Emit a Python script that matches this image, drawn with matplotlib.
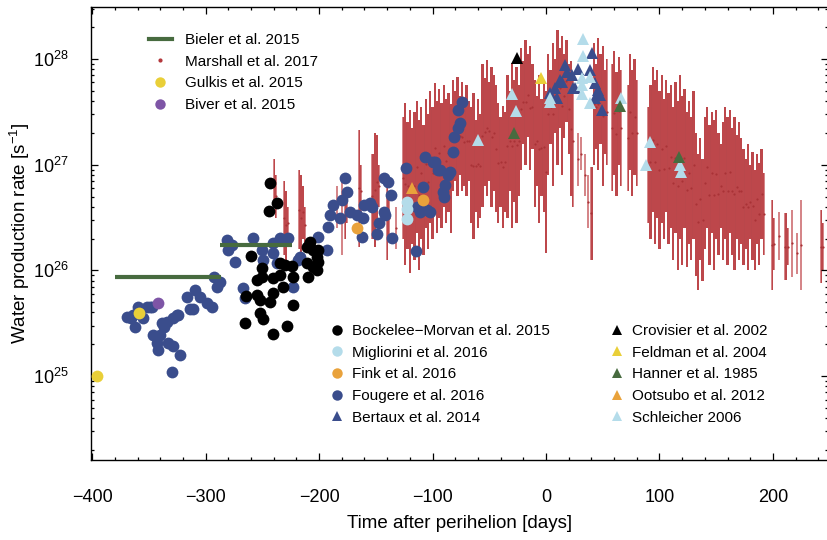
import numpy as np
import matplotlib.pyplot as plt
from matplotlib.lines import Line2D
from matplotlib.ticker import LogLocator, MultipleLocator, NullFormatter

plt.rcParams['font.family'] = ['Liberation Sans', 'DejaVu Sans']
plt.rcParams['mathtext.fontset'] = 'custom'
plt.rcParams['mathtext.rm'] = 'Liberation Sans'

# production rates are kept as log10(Q [s^-1]), times in days from perihelion

# Marshall et al. 2017: per-day range (low / high of the error bars)
marshall_day = [-240, -238, -231, -229, -227, -218, -216, -214, -212, -184, -180, -177, -175,
                -165, -163, -153, -151, -149, -147, -140, -138, -132,
                -126, -124, -122, -120, -118, -116, -114, -112, -110, -108, -106, -104,
                -102, -100, -98, -96, -94, -92, -90, -88, -86, -84,
                -82, -80, -78, -76, -74, -72, -70, -68,
                -66, -64, -62, -60, -58,
                -56, -54, -52, -50, -48, -46, -44,
                -42, -40, -38, -36,
                -34, -32, -30, -28, -26, -24,
                -22, -20, -18, -16, -14, -12,
                -10, -8, -6, -4, -2, 0,
                2, 4, 6, 8, 10, 12, 14, 16, 18, 20, 22, 24,
                28, 31, 34, 37, 40,
                42, 44, 46, 48, 50, 52, 54,
                58, 60, 62, 64, 66,
                72, 74, 76, 78, 80,
                90, 92, 94, 96, 98, 100, 102, 104, 106, 108, 110, 112, 114, 116, 118, 120,
                122, 124, 126, 128, 130, 132, 134, 136, 138, 140, 142, 144, 146, 148, 150,
                152, 154, 156, 158, 160, 162, 164, 166, 168, 170, 172, 174, 176, 178, 180,
                182, 184, 186, 188, 190, 192,
                199, 201, 205, 211, 213, 217, 221, 225, 242, 244]
marshall_lo = [26.65, 26.50, 26.15, 26.10, 26.30, 26.20, 26.10, 26.30, 26.25, 26.40, 26.15, 26.30, 26.45,
               26.22, 26.50, 26.30, 26.22, 26.40, 26.60, 26.10, 26.30, 26.20,
               26.30, 26.05, 26.20, 25.98, 26.25, 26.10, 26.35, 26.00, 26.30, 26.15, 26.40, 26.20,
               26.45, 26.30, 26.55, 26.35, 26.50, 26.40, 26.60, 26.45, 26.55, 26.35,
               26.75, 26.85, 26.70, 26.90, 26.75, 26.80, 26.70, 26.85,
               26.45, 26.30, 26.55, 26.40, 26.50,
               26.60, 26.80, 26.70, 26.85, 26.60, 26.75, 26.55,
               26.45, 26.60, 26.40, 26.55,
               26.50, 26.75, 26.40, 26.65, 26.45, 26.70,
               26.95, 27.20, 27.00, 27.26, 26.95, 27.15,
               26.60, 26.80, 26.45, 26.70, 26.55, 26.16,
               26.90, 27.20, 26.80, 27.30, 27.00, 27.35, 26.90, 27.25, 27.40, 27.10, 26.70, 26.60,
               26.80, 26.95, 26.70, 26.40, 26.10,
               27.00, 27.15, 26.95, 27.20, 26.80, 27.10, 27.00,
               26.75, 26.90, 26.70, 27.00, 26.80,
               26.75, 26.95, 26.70, 26.90, 26.80,
               26.45, 26.30, 26.55, 26.25, 26.50, 26.20, 26.45, 26.30, 26.55, 26.25, 26.40, 26.10,
               26.35, 26.00, 26.30, 26.05,
               26.40, 26.03, 26.25, 26.10, 26.30, 25.95, 25.81, 26.10, 25.90, 26.20, 26.40, 26.05,
               26.35, 26.00, 26.30,
               26.15, 26.40, 26.10, 26.30, 26.05, 26.35, 26.15, 26.00, 26.30, 26.10, 26.25, 26.05,
               26.20, 26.00, 26.30,
               26.10, 26.00, 26.25, 26.05, 26.30, 26.15,
               25.81, 26.00, 26.10, 25.91, 26.05, 25.94, 25.97, 25.81, 25.88, 26.00]
marshall_hi = [27.05, 26.90, 26.85, 26.75, 26.60, 26.95, 26.90, 26.80, 26.60, 26.80, 26.88, 26.75, 26.70,
               27.33, 27.00, 27.10, 27.30, 27.28, 27.00, 26.90, 26.70, 26.60,
               27.45, 27.58, 27.40, 27.52, 27.35, 27.50, 27.60, 27.42, 27.55, 27.38, 27.62, 27.48,
               27.70, 27.55, 27.77, 27.60, 27.72, 27.58, 27.75, 27.62, 27.68, 27.57,
               27.80, 27.70, 27.83, 27.65, 27.78, 27.62, 27.75, 27.60,
               27.55, 27.68, 27.42, 27.62, 27.48,
               27.95, 27.82, 27.99, 27.78, 27.92, 27.85, 27.75,
               27.58, 27.45, 27.56, 27.50,
               27.85, 27.70, 27.96, 27.80, 27.92, 27.75,
               28.10, 27.98, 28.18, 28.05, 28.12, 27.95,
               27.80, 27.65, 27.85, 27.62, 27.78, 27.70,
               28.05, 27.90, 28.15, 28.00, 28.27, 28.10, 28.22, 28.05, 28.18, 27.95, 27.98, 27.85,
               27.30, 27.26, 27.10, 26.90, 26.98,
               28.15, 27.95, 28.20, 28.05, 28.12, 27.90, 28.00,
               27.95, 28.08, 27.88, 28.02, 27.90,
               27.75, 28.05, 27.90, 28.00, 27.80,
               27.55, 27.75, 27.92, 27.80, 27.90, 27.70, 27.85, 27.62, 27.80, 27.68, 27.75, 27.55,
               27.78, 27.60, 27.85, 27.65,
               27.72, 27.50, 27.60, 27.45, 27.70, 27.30, 27.10, 27.25, 27.05, 27.45, 27.55, 27.38,
               27.50, 27.42, 27.52,
               27.30, 27.20, 27.40, 27.55, 27.45, 27.52, 27.35, 27.45, 27.28, 27.40, 27.25, 27.15,
               27.05, 27.20, 27.00,
               27.12, 26.95, 27.10, 27.02, 27.15, 26.92,
               26.67, 26.50, 26.55, 26.54, 26.40, 26.57, 26.35, 26.67, 26.57, 26.45]

# Bieler et al. 2015: mean rates over two intervals
bieler_start = [-380, -287]
bieler_end = [-286, -224]
bieler_logq = [25.94, 26.24]

gulkis_day = [-396, -359]
gulkis_logq = [25.00, 25.60]

biver_day = [-342]
biver_logq = [25.69]

bockelee_day = [-243, -237, -244, -260, -250, -234, -230, -224, -211, -208, -205, -201, -202,
                -211, -205, -201, -202, -210, -223, -234, -241, -250, -255, -232, -241, -255,
                -264, -252, -243, -223, -252, -249, -265, -228, -241]
bockelee_logq = [26.83, 26.64, 26.56, 26.14, 26.02, 26.07, 26.05, 26.04, 26.22, 26.27, 26.19, 26.19, 26.13,
                 26.07, 26.03, 26.08, 26.00, 25.94, 25.94, 25.96, 25.93, 25.94, 25.91, 25.84, 25.79, 25.77,
                 25.76, 25.72, 25.70, 25.67, 25.60, 25.54, 25.50, 25.47, 25.40]

migliorini_day = [-122.5, -122.5, -122.5]
migliorini_logq = [26.65, 26.58, 26.49]

fink_day = [-167, -108]
fink_logq = [26.40, 26.67]

fougere_day = [-369, -366, -364, -360, -352, -347, -355, -362, -346, -343, -342, -337, -334,
               -329, -324, -338, -333, -329, -323, -330, -358, -349, -340, -325,
               -316, -309, -305, -311, -299, -294, -314, -293, -287, -290, -281, -277, -280,
               -274, -267, -265, -258, -250, -249, -241, -234, -227, -241, -237, -223, -219,
               -217, -201, -193, -192, -190, -188, -182, -180, -177, -175, -173, -167, -162,
               -161, -160, -155, -153, -149, -147, -143, -143, -139, -137, -142, -136,
               -123, -107, -108, -114, -115, -105, -100, -98, -95, -93, -85, -86, -89, -91,
               -90, -102, -111, -109, -82, -81, -78, -78, -76, -74]
fougere_logq = [25.56, 25.55, 25.58, 25.65, 25.65, 25.65, 25.55, 25.46, 25.39, 25.31, 25.25, 25.46, 25.51,
                25.55, 25.58, 25.50, 25.31, 25.28, 25.20, 25.04, 25.63, 25.65, 25.39, 25.58,
                25.75, 25.81, 25.75, 25.63, 25.69, 25.65, 25.63, 25.94, 25.89, 25.84, 26.29, 26.24, 26.19,
                26.08, 25.83, 25.74, 26.31, 26.19, 26.10, 26.26, 26.31, 26.31, 26.16, 26.07, 25.84, 26.10,
                26.13, 26.32, 26.19, 26.41, 26.52, 26.62, 26.50, 26.67, 26.87, 26.74, 26.55, 26.52, 26.32,
                26.50, 26.62, 26.64, 26.60, 26.34, 26.45, 26.55, 26.87, 26.84, 26.71, 26.52, 26.31,
                26.97, 27.07, 26.79, 26.60, 26.18, 26.57, 27.03, 27.03, 26.95, 26.95, 26.93, 26.90, 26.81, 26.74,
                26.69, 26.55, 26.55, 26.59, 27.12, 27.26, 27.52, 27.35, 27.39, 27.59]

bertaux_day = [16.7, 12.3, 7.9, 3.5, 18.5, 22.9, 28.2, 23.8, 38.8, 40.5, 43.2, 45.8, 47.6, 43.2,
               49.3, 9.7, 14.1, 25.6]
bertaux_logq = [27.94, 27.80, 27.73, 27.68, 27.88, 27.85, 27.91, 27.73, 27.90, 28.06, 27.77, 27.71, 27.66, 27.63,
                27.52, 27.63, 27.78, 27.73]

crovisier_day = [-25.6]
crovisier_logq = [28.01]

feldman_day = [-4.4]
feldman_logq = [27.82]

hanner_day = [-28.2, 65.2, 117.2]
hanner_logq = [27.30, 27.56, 27.07]

ootsubo_day = [-118.5]
ootsubo_logq = [26.78]

schleicher_day = [32.6, 32.6, 31.7, 31.7, 31.7, 38.8, 38.8, 3.5, 3.5, -30.0, -26.4, -59.9, 66.1,
                  91.6, 88.1, 118.1, 119.2]
schleicher_logq = [28.19, 28.03, 27.82, 27.75, 27.67, 27.83, 27.58, 27.63, 27.59, 27.67, 27.51, 27.23, 27.63,
                   27.21, 27.00, 27.00, 26.93]

RED = '#b3373b'
GREEN = '#476b3f'
YELLOW = '#e9cf38'
PURPLE = '#7e55a6'
LIGHTBLUE = '#b4dcea'
ORANGE = '#e9a23b'
BLUE = '#3a4d8c'


def q(logs):
    return 10 ** np.asarray(logs, dtype=float)


fig = plt.figure(figsize=(8.28, 5.4), dpi=100)
ax = fig.add_axes([91 / 828, 80 / 540, 737 / 828, 453 / 540])

# Marshall et al.: contiguous stretches filled between the error bar ends,
# broken wherever consecutive days are more than 2.5 days apart
m_day = np.asarray(marshall_day, dtype=float)
m_lo = np.asarray(marshall_lo)
m_hi = np.asarray(marshall_hi)
fx, flo, fhi = [], [], []
for i in range(len(m_day)):
    fx.append(m_day[i])
    flo.append(m_lo[i])
    fhi.append(m_hi[i])
    if i < len(m_day) - 1 and m_day[i + 1] - m_day[i] > 2.5:
        fx.append((m_day[i] + m_day[i + 1]) / 2)
        flo.append(np.nan)
        fhi.append(np.nan)
ax.fill_between(fx, q(flo), q(fhi), step='mid', color=RED, lw=0, alpha=0.92, zorder=1)
ax.vlines(m_day, q(m_lo), q(m_hi), color='#c0474b', lw=1.1, alpha=0.85, zorder=1.2)
ax.plot(m_day, q((m_lo + m_hi) / 2), 'o', ms=1.6, mew=0, color='#a93236', zorder=1.5)

circle = dict(marker='o', ms=8.5, ls='none', mew=0)
tri = dict(marker='^', ms=8.5, ls='none', mew=0)

ax.plot(fougere_day, q(fougere_logq), color=BLUE, zorder=3, **circle)
ax.plot(bockelee_day, q(bockelee_logq), color='black', zorder=4, **circle)
ax.plot(migliorini_day, q(migliorini_logq), color=LIGHTBLUE, zorder=4, **circle)
ax.plot(fink_day, q(fink_logq), color=ORANGE, zorder=4, **circle)
ax.plot(gulkis_day, q(gulkis_logq), color=YELLOW, zorder=4, **circle)
ax.plot(biver_day, q(biver_logq), color=PURPLE, zorder=4, **circle)

ax.plot(bertaux_day, q(bertaux_logq), color=BLUE, zorder=5, **tri)
ax.plot(schleicher_day, q(schleicher_logq), color=LIGHTBLUE, zorder=5, **tri)
ax.plot(crovisier_day, q(crovisier_logq), color='black', zorder=5, **tri)
ax.plot(feldman_day, q(feldman_logq), color=YELLOW, zorder=5, **tri)
ax.plot(hanner_day, q(hanner_logq), color=GREEN, zorder=5, **tri)
ax.plot(ootsubo_day, q(ootsubo_logq), color=ORANGE, zorder=5, **tri)

ax.hlines(q(bieler_logq), bieler_start, bieler_end, color=GREEN, lw=3, zorder=6)

ax.set_yscale('log')
ax.set_xlim(-401, 248.5)
ax.set_ylim(10 ** 24.206, 10 ** 28.492)
ax.xaxis.set_major_locator(MultipleLocator(100))
ax.xaxis.set_minor_locator(MultipleLocator(20))
ax.yaxis.set_major_locator(LogLocator(base=10, numticks=10))
ax.yaxis.set_minor_locator(LogLocator(base=10, subs=np.arange(2, 10), numticks=20))
ax.yaxis.set_minor_formatter(NullFormatter())
ax.tick_params(which='both', direction='in', top=True, right=True, labelsize=13, width=0.9)
ax.tick_params(which='major', length=5)
ax.tick_params(which='minor', length=2.5)
ax.tick_params(axis='x', pad=21)
ax.tick_params(axis='y', pad=16)
for sp in ax.spines.values():
    sp.set_linewidth(1.0)

ax.set_xlabel('Time after perihelion [days]', fontsize=13.5, labelpad=6)
ax.set_ylabel('Water production rate [s$^{-1}$]', fontsize=13.5, labelpad=1)

# legends
def fig_xy(px, py):
    return (px / 828, 1 - py / 540)


h1 = [Line2D([], [], color=GREEN, lw=3),
      Line2D([], [], color=RED, marker='o', ms=2, ls='none'),
      Line2D([], [], color=YELLOW, marker='o', ms=7.5, ls='none', mew=0),
      Line2D([], [], color=PURPLE, marker='o', ms=7.5, ls='none', mew=0)]
l1 = ['Bieler et al. 2015', 'Marshall et al. 2017', 'Gulkis et al. 2015', 'Biver et al. 2015']
leg1 = fig.legend(h1, l1, loc='upper left', bbox_to_anchor=fig_xy(149, 33), frameon=False,
                  fontsize=11, handlelength=1.5, handletextpad=0.85, borderpad=0,
                  borderaxespad=0, labelspacing=0.5)

h2 = [Line2D([], [], color='black', marker='o', ms=7.5, ls='none', mew=0),
      Line2D([], [], color=LIGHTBLUE, marker='o', ms=7.5, ls='none', mew=0),
      Line2D([], [], color=ORANGE, marker='o', ms=7.5, ls='none', mew=0),
      Line2D([], [], color=BLUE, marker='o', ms=7.5, ls='none', mew=0),
      Line2D([], [], color=BLUE, marker='^', ms=6.5, ls='none', mew=0)]
l2 = ['Bockelee\u2212Morvan et al. 2015', 'Migliorini et al. 2016', 'Fink et al. 2016',
      'Fougere et al. 2016', 'Bertaux et al. 2014']
leg2 = fig.legend(h2, l2, loc='upper left', bbox_to_anchor=fig_xy(329, 324), frameon=False,
                  fontsize=11, handlelength=1.0, handletextpad=0.5, borderpad=0,
                  borderaxespad=0, labelspacing=0.5)

h3 = [Line2D([], [], color=c, marker='^', ms=6.5, ls='none', mew=0)
      for c in ['black', YELLOW, GREEN, ORANGE, LIGHTBLUE]]
l3 = ['Crovisier et al. 2002', 'Feldman et al. 2004', 'Hanner et al. 1985',
      'Ootsubo et al. 2012', 'Schleicher 2006']
leg3 = fig.legend(h3, l3, loc='upper left', bbox_to_anchor=fig_xy(609, 324), frameon=False,
                  fontsize=11, handlelength=1.0, handletextpad=0.5, borderpad=0,
                  borderaxespad=0, labelspacing=0.5)

fig.savefig('out.png', dpi=100)
